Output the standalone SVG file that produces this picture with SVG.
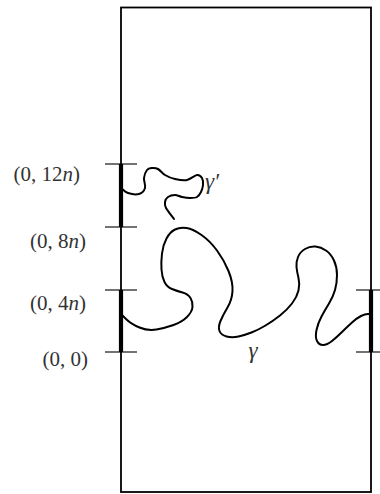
<svg xmlns="http://www.w3.org/2000/svg" width="380" height="494" viewBox="0 0 380 494">
<style>
.frame{fill:none;stroke:#000;stroke-width:1.8}
.tick{stroke:#000;stroke-width:1.1}
.thick{stroke:#000;stroke-width:4.2}
.curve{fill:none;stroke:#000;stroke-width:2;stroke-linecap:round;stroke-linejoin:round}
.lbl{font-family:"Liberation Serif","DejaVu Serif",serif;font-size:21px;fill:#333}
.it{font-style:italic}
.g{font-size:23px}
</style>
<rect id="frame" class="frame" x="121" y="7.5" width="250" height="484.5"/>
<g id="ticks">
<line class="tick" x1="105" y1="164" x2="137" y2="164"/>
<line class="tick" x1="105" y1="227" x2="137" y2="227"/>
<line class="tick" x1="105" y1="290" x2="137" y2="290"/>
<line class="tick" x1="105" y1="352" x2="137" y2="352"/>
<line class="tick" x1="356" y1="290" x2="386" y2="290"/>
<line class="tick" x1="356" y1="352" x2="386" y2="352"/>
<line class="thick" x1="121" y1="164" x2="121" y2="227"/>
<line class="thick" x1="121" y1="290" x2="121" y2="352"/>
<line class="thick" x1="371" y1="290" x2="371" y2="352"/>
</g>
<g id="labels">
<text class="lbl" x="80" y="181" text-anchor="end">(0, 12<tspan class="it">n</tspan>)</text>
<text class="lbl" x="86" y="248" text-anchor="end">(0, 8<tspan class="it">n</tspan>)</text>
<text class="lbl" x="86" y="310" text-anchor="end">(0, 4<tspan class="it">n</tspan>)</text>
<text class="lbl" x="88" y="366" text-anchor="end">(0, 0)</text>
</g>
<g id="gamma-prime">
<path class="curve" d="M121,188 C122.2,188.8 125,192 128,193 C131,194 136.2,194.8 139,194 C141.8,193.2 144.2,190.7 145,188 C145.8,185.3 143.7,181 144,178 C144.3,175 145.7,171.7 147,170 C148.3,168.3 150.2,168.2 152,168 C153.8,167.8 155.8,167.8 158,169 C160.2,170.2 162.2,173.3 165,175 C167.8,176.7 171.3,178.2 175,179 C178.7,179.8 183.3,180.7 187,180 C190.7,179.3 194.5,175.3 197,175 C199.5,174.7 201,176.3 202,178 C203,179.7 203.2,182.7 203,185 C202.8,187.3 202,190 201,192 C200,194 198.8,196 197,197 C195.2,198 192.5,198 190,198 C187.5,198 184.5,197.5 182,197 C179.5,196.5 177.3,195 175,195 C172.7,195 169.7,195.8 168,197 C166.3,198.2 165.3,200.2 165,202 C164.7,203.8 164.5,205.2 166,208 C167.5,210.8 172.7,217.2 174,219"/>
<text class="lbl it g" x="205" y="189">γ′</text>
</g>
<g id="gamma">
<path class="curve" d="M121,314 L126,319 Q131,324 139.5,327.5 Q148,331 156.5,329.5 Q165,328 173.5,325 Q182,322 187,317 Q192,312 192.5,307 Q193,302 190.5,298 Q188,294 182.5,292.5 Q177,291 172,289 Q167,287 164.5,282 Q162,277 161.5,269.5 Q161,262 162,253.5 Q163,245 166.5,238.5 Q170,232 175,229.5 Q180,227 186.5,228 Q193,229 201.5,235 Q210,241 217,250.5 Q224,260 228.5,271 Q233,282 232.5,291 Q232,300 227.5,307.5 Q223,315 220.5,321 Q218,327 219.5,331 Q221,335 226.5,336.5 Q232,338 238.5,336.5 Q245,335 251.5,332.5 Q258,330 265.5,325.5 Q273,321 280,315.5 Q287,310 292,303.5 Q297,297 298.5,290.5 Q300,284 298.5,278 Q297,272 296.5,267 Q296,262 298,257 Q300,252 305,249 Q310,246 315.5,246.5 Q321,247 326,250.5 Q331,254 334,260.5 Q337,267 337,275 Q337,283 335,290 Q333,297 329,303.5 Q325,310 321.5,316.5 Q318,323 316.5,330 Q315,337 317,341 Q319,345 323,345 Q327,345 332,341 Q337,337 342,332 Q347,327 352,322.5 Q357,318 361,316 Q365,314 368,314 L371,314"/>
<text class="lbl it g" x="253" y="358" text-anchor="middle">γ</text>
</g>
</svg>
